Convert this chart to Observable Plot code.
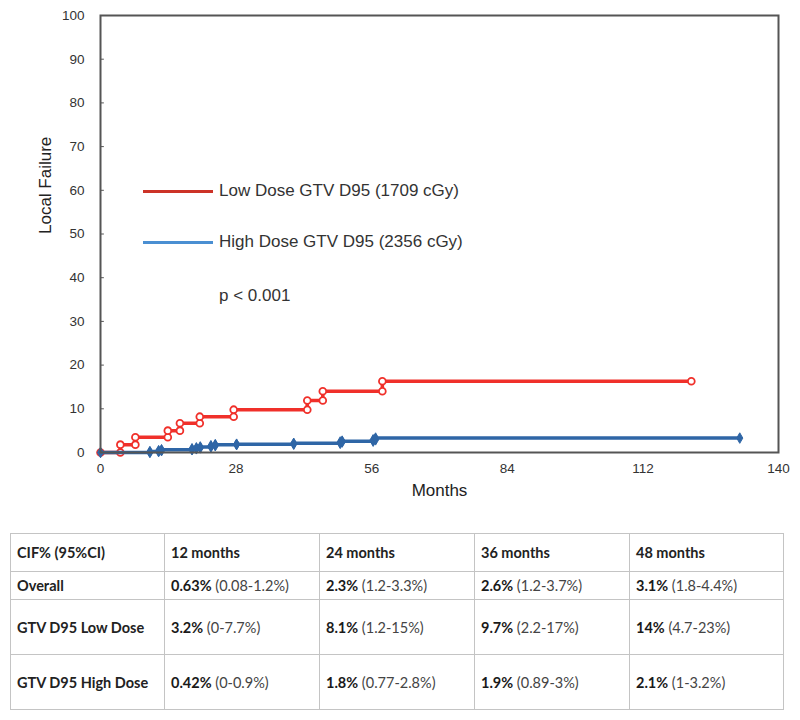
<!DOCTYPE html>
<html><head><meta charset="utf-8">
<script src="https://cdn.jsdelivr.net/npm/d3@7"></script>
<script src="https://cdn.jsdelivr.net/npm/@observablehq/plot@0.6"></script>
<style>
body{margin:0;background:#fff;}
#wrap{position:relative;width:800px;height:720px;overflow:hidden;}
.lg{position:absolute;left:143px;width:70px;height:3px;}
.lt{position:absolute;left:219px;font-family:"Liberation Sans",Arial,sans-serif;font-size:17px;line-height:20px;color:#333;white-space:nowrap;}
table{position:absolute;left:10px;top:533px;border-collapse:collapse;table-layout:fixed;width:773px;font-family:Lato,"Open Sans",sans-serif;font-size:14.5px;color:#222;}
td{border:1.5px solid #c4c4c4;padding:0 6px;vertical-align:middle;white-space:nowrap;}
td b{font-weight:700;color:#1a1a1a;}
td span{color:#444;}
td.h{font-weight:700;}
</style></head><body>
<div id="wrap">
<div id="chart"></div>
<div id="legend"></div>
<table id="tbl"></table>
</div>
<script>
// Low dose GTV D95 (red): event times (months) and cumulative incidence (%)
const lowTimes  = [4.1, 7.2, 13.9, 16.4, 20.5, 27.5, 42.7, 45.9, 58.2];
const lowValues = [1.8, 3.5, 5.0, 6.7, 8.2, 9.8, 11.9, 14.0, 16.3];
const lowEnd = 122;
// High dose GTV D95 (blue)
const highTimes  = [10.2, 12.0, 12.6, 18.9, 19.8, 20.6, 22.8, 23.7, 28.1, 39.9, 49.5, 49.9, 56.3, 56.8];
const highValues = [0.21, 0.42, 0.63, 0.85, 1.06, 1.27, 1.55, 1.8, 1.9, 2.1, 2.4, 2.6, 2.9, 3.3];
const highEnd = 132;

const xTicks = [0, 28, 56, 84, 112, 140];
const yTicks = [0, 10, 20, 30, 40, 50, 60, 70, 80, 90, 100];

const legendLabels = ["Low Dose GTV D95 (1709 cGy)", "High Dose GTV D95 (2356 cGy)"];
const pValueText = "p < 0.001";

// Table
const tableHeader = ["CIF% (95%CI)", "12 months", "24 months", "36 months", "48 months"];
const rowLabels = ["Overall", "GTV D95 Low Dose", "GTV D95 High Dose"];
const estimates = [
  ["0.63%", "2.3%", "2.6%", "3.1%"],
  ["3.2%", "8.1%", "9.7%", "14%"],
  ["0.42%", "1.8%", "1.9%", "2.1%"]
];
const intervals = [
  ["(0.08-1.2%)", "(1.2-3.3%)", "(1.2-3.7%)", "(1.8-4.4%)"],
  ["(0-7.7%)", "(1.2-15%)", "(2.2-17%)", "(4.7-23%)"],
  ["(0-0.9%)", "(0.77-2.8%)", "(0.89-3%)", "(1-3.2%)"]
];

const RED = "#f0302a", BLUE = "#2f66a6";

function corners(times, values, end) {
  const pts = [{t: 0, v: 0}];
  let prev = 0;
  times.forEach((t, i) => { pts.push({t, v: prev}); pts.push({t, v: values[i]}); prev = values[i]; });
  pts.push({t: end, v: prev});
  return pts;
}
const low = corners(lowTimes, lowValues, lowEnd);
const high = corners(highTimes, highValues, highEnd);

const chart = Plot.plot({
  width: 800, height: 515,
  marginLeft: 100, marginRight: 22, marginTop: 15, marginBottom: 63,
  style: {fontFamily: "'Liberation Sans', Arial, sans-serif", fontSize: "13px", color: "#333", background: "#fff"},
  x: {domain: [0, 140], ticks: xTicks},
  y: {domain: [0, 100], ticks: yTicks},
  marks: [
    Plot.axisX({ticks: xTicks, tickSize: 0, tickPadding: 11, label: null, fontSize: 13.5}),
    Plot.axisY({ticks: yTicks, tickSize: 0, tickPadding: 16, label: null, fontSize: 13.5}),
    Plot.ruleY(yTicks, {x1: 0, x2: 0.8, stroke: "#555", strokeWidth: 1}),
    Plot.text(["Months"], {frameAnchor: "bottom", dy: 43, fontSize: 17, fill: "#222"}),
    Plot.text(["Local Failure"], {frameAnchor: "left", dx: -55, rotate: -90, fontSize: 17, fill: "#222"}),
    Plot.line(low, {x: "t", y: "v", stroke: RED, strokeWidth: 3.5}),
    Plot.dot(low, {x: "t", y: "v", r: 3.4, stroke: RED, fill: "white", strokeWidth: 1.8}),
    Plot.line(high, {x: "t", y: "v", stroke: BLUE, strokeWidth: 3.5}),
    Plot.dot(high, {x: "t", y: "v", symbol: "diamond", r: 3.2, fill: BLUE, stroke: BLUE, strokeWidth: 1}),
    Plot.frame({stroke: "#555", strokeWidth: 2})
  ]
});
document.getElementById("chart").appendChild(chart);

// Legend overlay
const legend = document.getElementById("legend");
const legendColors = ["#cc3328", "#4a8fd2"];
const legendTops = [191, 242];
legendLabels.forEach((lab, i) => {
  const ln = document.createElement("div");
  ln.className = "lg"; ln.style.top = (legendTops[i] - 1.5) + "px"; ln.style.background = legendColors[i];
  legend.appendChild(ln);
  const tx = document.createElement("div");
  tx.className = "lt"; tx.style.top = (legendTops[i] - 10) + "px"; tx.textContent = lab;
  legend.appendChild(tx);
});
const pv = document.createElement("div");
pv.className = "lt"; pv.style.top = (296 - 10) + "px"; pv.textContent = pValueText;
legend.appendChild(pv);

// Table
const tbl = document.getElementById("tbl");
const colW = [154, 155, 155, 155, 154];
const cg = document.createElement("colgroup");
colW.forEach(w => { const c = document.createElement("col"); c.style.width = w + "px"; cg.appendChild(c); });
tbl.appendChild(cg);
const rowH = [38, 28, 55, 55];
const hr = document.createElement("tr"); hr.style.height = rowH[0] + "px";
tableHeader.forEach(h => { const td = document.createElement("td"); td.className = "h"; td.textContent = h; hr.appendChild(td); });
tbl.appendChild(hr);
rowLabels.forEach((lab, r) => {
  const tr = document.createElement("tr"); tr.style.height = rowH[r + 1] + "px";
  const td0 = document.createElement("td"); td0.className = "h"; td0.textContent = lab; tr.appendChild(td0);
  estimates[r].forEach((e, c) => {
    const td = document.createElement("td");
    const b = document.createElement("b"); b.textContent = e;
    const s = document.createElement("span"); s.textContent = " " + intervals[r][c];
    td.appendChild(b); td.appendChild(s); tr.appendChild(td);
  });
  tbl.appendChild(tr);
});
</script>
</body></html>
